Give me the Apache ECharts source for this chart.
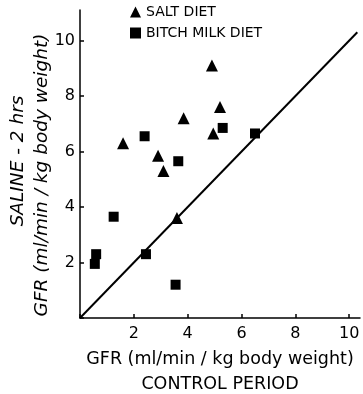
<!DOCTYPE html>
<html>
<head>
<meta charset="utf-8">
<script src="https://cdn.jsdelivr.net/npm/echarts@6/dist/echarts.min.js"></script>
<style>
  html, body { margin: 0; padding: 0; background: #fff; }
  #main { width: 363px; height: 394px; }
</style>
</head>
<body>
<div id="main"></div>
<script>
// GFR control period (x) vs saline 2 hrs (y)
var saltDiet = [
  [1.6, 6.3], [4.9, 9.1], [5.2, 7.6], [3.85, 7.2],
  [4.95, 6.65], [2.9, 5.85], [3.1, 5.3], [3.6, 3.6]
];
var milkDiet = [
  [2.4, 6.55], [3.65, 5.65], [5.3, 6.85], [6.5, 6.65],
  [1.25, 3.65], [0.6, 2.3], [0.55, 1.95], [2.45, 2.3], [3.55, 1.2]
];
var identityLine = [[0, 0], [10.3, 10.3]];
var seriesNames = ['SALT DIET', 'BITCH MILK DIET'];

var font = 'DejaVu Sans';
var chart = echarts.init(document.getElementById('main'));

function noZero(v) { return v === 0 ? '' : v; }

chart.setOption({
  animation: false,
  backgroundColor: '#fff',
  textStyle: { fontFamily: font, color: '#000' },
  grid: { left: 80, right: 3, top: 10, bottom: 76, outerBoundsMode: 'none', containLabel: false },
  legend: {
    orient: 'vertical',
    left: 125, top: 0,
    itemWidth: 11, itemHeight: 11, itemGap: 7,
    textStyle: { fontFamily: font, fontSize: 14, color: '#000' },
    data: [
      { name: seriesNames[0], icon: 'triangle' },
      { name: seriesNames[1], icon: 'rect' }
    ]
  },
  xAxis: {
    type: 'value', min: 0, max: 10.4, interval: 2,
    splitLine: { show: false },
    axisLine: { lineStyle: { color: '#000', width: 1.5 } },
    axisTick: { inside: true, length: 4, lineStyle: { color: '#000', width: 1.5 } },
    axisLabel: {
      fontFamily: font, fontSize: 16, color: '#000', margin: 8,
      showMaxLabel: false, formatter: noZero
    },
    name: 'GFR (ml/min / kg body weight)\nCONTROL PERIOD',
    nameLocation: 'middle', nameGap: 27,
    nameTextStyle: { fontFamily: font, fontSize: 17.5, color: '#000', lineHeight: 25, verticalAlign: 'top' }
  },
  yAxis: {
    type: 'value', min: 0, max: 11.1, interval: 2,
    splitLine: { show: false },
    axisLine: { lineStyle: { color: '#000', width: 1.5 } },
    axisTick: { inside: true, length: 4, lineStyle: { color: '#000', width: 1.5 } },
    axisLabel: {
      fontFamily: font, fontSize: 16, color: '#000', margin: 5,
      showMaxLabel: false, formatter: noZero
    }
  },
  graphic: [
    {
      type: 'text', x: 9, y: 161, rotation: Math.PI / 2,
      style: { text: 'SALINE - 2 hrs', font: 'italic 18.5px ' + font, fill: '#000', textAlign: 'center', textVerticalAlign: 'top' }
    },
    {
      type: 'text', x: 33, y: 175, rotation: Math.PI / 2,
      style: { text: 'GFR (ml/min / kg body weight)', font: 'italic 18.5px ' + font, fill: '#000', textAlign: 'center', textVerticalAlign: 'top' }
    }
  ],
  series: [
    {
      type: 'line', data: identityLine, symbol: 'none', silent: true,
      lineStyle: { color: '#000', width: 2 }
    },
    {
      name: seriesNames[0], type: 'scatter', data: saltDiet,
      symbol: 'triangle', symbolSize: 12,
      itemStyle: { color: '#000', opacity: 1 }
    },
    {
      name: seriesNames[1], type: 'scatter', data: milkDiet,
      symbol: 'rect', symbolSize: 10,
      itemStyle: { color: '#000', opacity: 1 }
    }
  ]
});
</script>
</body>
</html>
